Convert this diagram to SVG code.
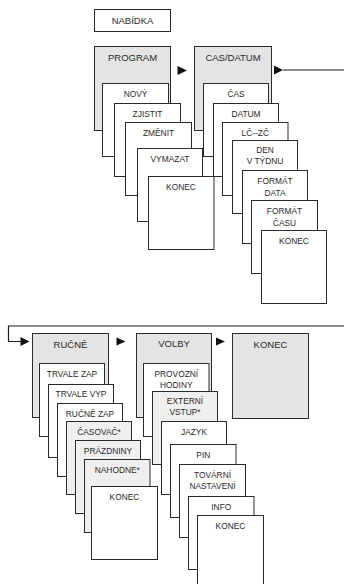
<svg xmlns="http://www.w3.org/2000/svg" width="344" height="584" viewBox="0 0 344 584">
<style>
rect{stroke:#2a2a2a;stroke-width:1}
.h{fill:#e4e4e4}
.c{fill:#ffffff}
.g{fill:#efefef}
text{font-family:"Liberation Sans",Arial,sans-serif;fill:#2a2a2a;text-anchor:middle}
.ht{font-size:9.5px}
.ct{font-size:8.4px}
.ln{fill:none;stroke:#1a1a1a;stroke-width:1.2}
.ar{fill:#111}
</style>
<rect width="344" height="584" fill="#ffffff" style="stroke:none"/>
<g id="connectors">
<polygon class="ar" points="177.5,66 187,70.5 177.5,75"/>
<polygon class="ar" points="274,65.5 283,70 274,74.5"/>
<path class="ln" d="M283,70 H344"/>
<path class="ln" d="M344,326 H8.5 V341.5 H21"/>
<polygon class="ar" points="20.5,337 29.5,341.5 20.5,346"/>
<polygon class="ar" points="116.5,337.5 125.5,341.5 116.5,345.5"/>
<polygon class="ar" points="216,337.5 225,341.5 216,345.5"/>
</g>
<g id="nabidka"><rect class="c" x="94.5" y="9.5" width="76" height="22"/><text class="ht" x="132.5" y="24">NABÍDKA</text></g>

<g id="program"><rect class="h" x="94.5" y="46.5" width="76" height="84"/><text class="ht" x="132.5" y="61">PROGRAM</text></g>
<g id="p-novy"><rect class="c" x="102.5" y="83.5" width="66" height="73"/><text class="ct" x="135.5" y="96.5">NOVÝ</text></g>
<g id="p-zjistit"><rect class="c" x="114.5" y="103.5" width="66" height="73"/><text class="ct" x="147.5" y="116.5">ZJISTIT</text></g>
<g id="p-zmenit"><rect class="c" x="125.5" y="122.5" width="66" height="73"/><text class="ct" x="158.5" y="135.5">ZMĚNIT</text></g>
<g id="p-vymazat"><rect class="c" x="137.5" y="148.5" width="65" height="73"/><text class="ct" x="170" y="161.5">VYMAZAT</text></g>
<g id="p-konec"><rect class="c" x="148.5" y="176.5" width="65.5" height="73"/><text class="ct" x="181" y="189.5">KONEC</text></g>

<g id="casdatum"><rect class="h" x="194.5" y="46.5" width="77" height="84"/><text class="ht" x="233" y="61">CAS/DATUM</text></g>
<g id="c-cas"><rect class="c" x="203.5" y="83.5" width="65" height="73"/><text class="ct" x="236" y="96.5">ČAS</text></g>
<g id="c-datum"><rect class="c" x="213.5" y="103.5" width="65" height="73"/><text class="ct" x="246" y="116.5">DATUM</text></g>
<g id="c-lczc"><rect class="c" x="222.5" y="122.5" width="65.5" height="73"/><text class="ct" x="255.3" y="135.5">LČ--ZČ</text></g>
<g id="c-den"><rect class="c" x="232.5" y="140.5" width="65" height="73"/><text class="ct" x="265" y="153">DEN</text><text class="ct" x="265" y="164">V TÝDNU</text></g>
<g id="c-fdata"><rect class="c" x="242.5" y="170.5" width="65" height="73"/><text class="ct" x="275" y="183.5">FORMÁT</text><text class="ct" x="275" y="196">DATA</text></g>
<g id="c-fcasu"><rect class="c" x="251.5" y="200.5" width="66" height="73"/><text class="ct" x="284.5" y="213.5">FORMÁT</text><text class="ct" x="284.5" y="226">ČASU</text></g>
<g id="c-konec"><rect class="c" x="261.5" y="230.5" width="65" height="73"/><text class="ct" x="294" y="243.5">KONEC</text></g>

<g id="rucne"><rect class="h" x="32.5" y="333.5" width="76" height="84"/><text class="ht" x="70.5" y="348">RUČNĚ</text></g>
<g id="r-tzap"><rect class="c" x="39.5" y="363.5" width="65" height="73"/><text class="ct" x="72" y="376.5">TRVALE ZAP</text></g>
<g id="r-tvyp"><rect class="c" x="48.5" y="384.5" width="65" height="73"/><text class="ct" x="81" y="397">TRVALE VYP</text></g>
<g id="r-rzap"><rect class="c" x="57.5" y="403.5" width="65" height="73"/><text class="ct" x="90" y="416.5">RUČNĚ ZAP</text></g>
<g id="r-casovac"><rect class="g" x="66.5" y="421.5" width="65" height="73"/><text class="ct" x="99" y="434.5">ČASOVAČ*</text></g>
<g id="r-prazdniny"><rect class="g" x="75.5" y="440.5" width="65" height="73"/><text class="ct" x="108" y="453.5">PRÁZDNINY</text></g>
<g id="r-nahodne"><rect class="g" x="84.5" y="459.5" width="65.5" height="73"/><text class="ct" x="117.3" y="472.5">NAHODNE*</text></g>
<g id="r-konec"><rect class="c" x="91.5" y="486.5" width="66" height="73"/><text class="ct" x="124.5" y="499.5">KONEC</text></g>

<g id="volby"><rect class="h" x="136.5" y="333.5" width="75" height="84"/><text class="ht" x="174" y="347">VOLBY</text></g>
<g id="v-provozni"><rect class="c" x="143.5" y="363.5" width="65.5" height="73"/><text class="ct" x="176.3" y="377">PROVOZNÍ</text><text class="ct" x="176.3" y="388">HODINY</text></g>
<g id="v-externi"><rect class="g" x="152.5" y="391.5" width="65" height="73"/><text class="ct" x="185" y="404">EXTERNÍ</text><text class="ct" x="185" y="415">VSTUP*</text></g>
<g id="v-jazyk"><rect class="c" x="161.5" y="421.5" width="65" height="73"/><text class="ct" x="194" y="434.5">JAZYK</text></g>
<g id="v-pin"><rect class="c" x="170.5" y="444.5" width="65.5" height="73"/><text class="ct" x="203.3" y="457.5">PIN</text></g>
<g id="v-tovarni"><rect class="c" x="179.5" y="464.5" width="66" height="73"/><text class="ct" x="212.5" y="478">TOVÁRNÍ</text><text class="ct" x="212.5" y="489">NASTAVENÍ</text></g>
<g id="v-info"><rect class="c" x="188.5" y="496.5" width="65.5" height="73"/><text class="ct" x="221.3" y="509.5">INFO</text></g>
<g id="v-konec"><rect class="c" x="197.5" y="515.5" width="66" height="73"/><text class="ct" x="230.5" y="528.5">KONEC</text></g>

<g id="konec"><rect class="h" x="232.5" y="333.5" width="76" height="85"/><text class="ht" x="270.5" y="348">KONEC</text></g>
</svg>
